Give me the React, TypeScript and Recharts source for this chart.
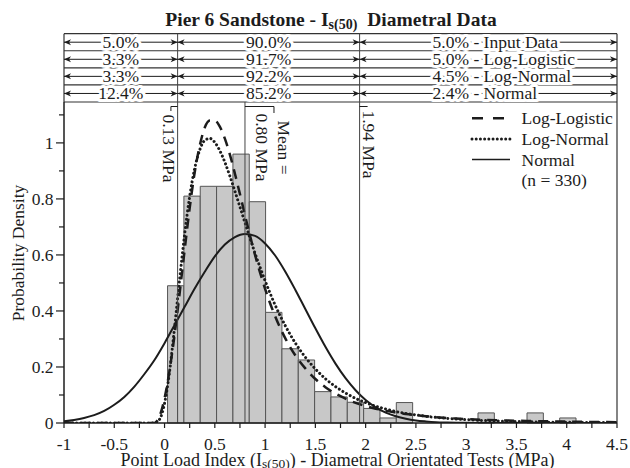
import React from 'react';
import { ComposedChart, Line, XAxis, YAxis, ReferenceArea, ReferenceLine } from 'recharts';

const SERIF = '"Liberation Serif", "Times New Roman", Times, serif';
const INK = '#1c1c1c';

// ---- histogram (density per bin) ----
const binEdges = [0.03, 0.1925, 0.355, 0.5175, 0.68, 0.8425, 1.005, 1.1675, 1.33, 1.4925, 1.655, 1.8175, 1.98, 2.1425, 2.305, 2.4675, 2.63, 2.7925, 2.955, 3.1175, 3.28, 3.4425, 3.605, 3.7675, 3.93, 4.0925];
const binDensity = [0.49, 0.81, 0.845, 0.845, 0.96, 0.79, 0.395, 0.265, 0.225, 0.112, 0.093, 0.074, 0.052, 0.018, 0.073, 0, 0, 0, 0, 0.036, 0, 0, 0.036, 0, 0.018];

// ---- fitted curves ----
const curveX = [-1, -0.9, -0.8, -0.7, -0.6, -0.5, -0.4, -0.3, -0.2, -0.15, -0.1, -0.05,
  0, 0.05, 0.1, 0.15, 0.2, 0.25, 0.3, 0.35, 0.4, 0.45, 0.5, 0.55, 0.6, 0.65, 0.7, 0.75, 0.8, 0.85, 0.9, 0.95, 1.0,
  1.1, 1.2, 1.3, 1.4, 1.5, 1.6, 1.7, 1.8, 1.9, 2.0, 2.1, 2.2, 2.3, 2.4, 2.5, 2.6, 2.7, 2.8, 2.9, 3.0,
  3.2, 3.4, 3.6, 3.8, 4.0, 4.2, 4.5];
const logLogisticY = [0, 0, 0, 0, 0, 0, 0, 0, 0, 0, 0, 0.024,
  0.088, 0.188, 0.316, 0.463, 0.618, 0.767, 0.895, 0.99, 1.055, 1.08, 1.08, 1.058, 1.015, 0.958, 0.89, 0.817, 0.742, 0.669, 0.6, 0.537, 0.479,
  0.381, 0.303, 0.242, 0.195, 0.157, 0.128, 0.105, 0.087, 0.072, 0.061, 0.051, 0.044, 0.037, 0.032, 0.028, 0.024, 0.021, 0.018, 0.016, 0.014,
  0.011, 0.0089, 0.0072, 0.0059, 0.0049, 0.004, 0.0031];
const logNormalY = [0, 0, 0, 0, 0, 0, 0, 0, 0, 0, 0.0005, 0.013,
  0.07, 0.184, 0.342, 0.513, 0.674, 0.809, 0.909, 0.975, 1.009, 1.016, 1.002, 0.972, 0.931, 0.881, 0.827, 0.771, 0.715, 0.66, 0.606, 0.556, 0.508,
  0.421, 0.348, 0.286, 0.235, 0.193, 0.158, 0.13, 0.107, 0.088, 0.073, 0.06, 0.05, 0.041, 0.034, 0.029, 0.024, 0.02, 0.017, 0.014, 0.012,
  0.0085, 0.0061, 0.0044, 0.0032, 0.0024, 0.0018, 0.0011];
const normalY = [0.006, 0.011, 0.018, 0.028, 0.043, 0.065, 0.093, 0.13, 0.175, null, 0.225, null,
  0.285, null, 0.35, null, 0.415, null, 0.48, null, 0.54, null, 0.595, null, 0.637, null, 0.664, null, 0.675, null, 0.668, null, 0.641,
  0.598, 0.541, 0.476, 0.407, 0.338, 0.272, 0.212, 0.16, 0.117, 0.082, 0.056, 0.037, 0.024, 0.015, 0.009, 0.0055, 0.003, 0.0017, 0.0009, 0.0005,
  0.0001, 0, 0, 0, 0, 0, 0];

const xTicks = [-1, -0.75, -0.5, -0.25, 0, 0.25, 0.5, 0.75, 1, 1.25, 1.5, 1.75, 2, 2.25, 2.5, 2.75, 3, 3.25, 3.5, 3.75, 4, 4.25, 4.5];
const yTicks = [0, 0.1, 0.2, 0.3, 0.4, 0.5, 0.6, 0.7, 0.8, 0.9, 1, 1.1];
const xMin = -1;
const xMax = 4.5;
const yMax = 1.146;

// ---- annotations ----
const lowerCut = 0.13;
const upperCut = 1.94;
const meanValue = 0.8;
const lowerLabel = '0.13 MPa';
const upperLabel = '1.94 MPa';
const meanLabel = ['Mean =', '0.80 MPa'];

const tableBounds = [1.39, 1.329, 1.268, 1.207, 1.146];
const tableLeft = ['5.0%', '3.3%', '3.3%', '12.4%'];
const tableMid = ['90.0%', '91.7%', '92.2%', '85.2%'];
const tableRight = ['5.0% - Input Data', '5.0% - Log-Logistic', '4.5% - Log-Normal', '2.4% - Normal'];

const legendNames = ['Log-Logistic', 'Log-Normal', 'Normal', '(n = 330)'];

const chartData = curveX.map((x, i) => ({ x, ll: logLogisticY[i], ln: logNormalY[i], nm: normalY[i] }));

const XTick = (props: any) => {
  const { x, y, payload } = props;
  const v = payload.value;
  const major = Math.abs(v * 2 - Math.round(v * 2)) < 1e-6;
  return (
    <g>
      <line x1={x} y1={y} x2={x} y2={y + 5} stroke={INK} strokeWidth={1.2} />
      {major && (
        <text x={x} y={y + 26.5} textAnchor="middle" fontFamily={SERIF} fontSize={17.5} fill={INK}>
          {String(v)}
        </text>
      )}
    </g>
  );
};

const YTick = (props: any) => {
  const { x, y, payload } = props;
  const v = payload.value;
  const major = Math.abs(v * 5 - Math.round(v * 5)) < 1e-6 && v <= 1.0001;
  return (
    <g>
      <line x1={x - (major ? 8 : 5)} y1={y} x2={x} y2={y} stroke={INK} strokeWidth={1.2} />
      {major && (
        <text x={x - 10.5} y={y + 6} textAnchor="end" fontFamily={SERIF} fontSize={17.5} fill={INK}>
          {String(v)}
        </text>
      )}
    </g>
  );
};

const makeCell = (text: string, align: 'center' | 'start') => (p: any) => {
  const xa = Math.min(p.x1, p.x2);
  const xb = Math.max(p.x1, p.x2);
  const y = p.y1;
  const tx = align === 'center' ? (xa + xb) / 2 : xa + 73;
  const ah = (tip: number, dir: number) =>
    `M${tip},${y} L${tip - dir * 7},${y - 3} L${tip - dir * 5},${y} L${tip - dir * 7},${y + 3} Z`;
  return (
    <g>
      <line x1={xa} y1={y} x2={xb} y2={y} stroke={INK} strokeWidth={1} />
      <path d={ah(xa, -1)} fill={INK} />
      <path d={ah(xb, 1)} fill={INK} />
      <text
        x={tx}
        y={y + 6}
        textAnchor={align === 'center' ? 'middle' : 'start'}
        fontFamily={SERIF}
        fontSize={17.5}
        fill={INK}
        stroke="#fff"
        strokeWidth={6}
        strokeLinejoin="round"
        style={{ paintOrder: 'stroke' } as any}
      >
        {text}
      </text>
    </g>
  );
};

const lowerShape = (p: any) => {
  const x = p.x1;
  const top = Math.min(p.y1, p.y2);
  return (
    <g>
      <path d={`M${x},${top + 4.5} H${x - 6.7} V${top + 9}`} fill="none" stroke={INK} strokeWidth={1} />
      <text x={x - 15} y={top + 12.5} transform={`rotate(90 ${x - 15} ${top + 12.5})`} fontFamily={SERIF} fontSize={17.5} fill={INK}>
        {lowerLabel}
      </text>
    </g>
  );
};

const upperShape = (p: any) => {
  const x = p.x1;
  const top = Math.min(p.y1, p.y2);
  return (
    <g>
      <path d={`M${x},${top + 4.5} H${x + 8}`} fill="none" stroke={INK} strokeWidth={1} />
      <text x={x + 3.7} y={top + 8.5} transform={`rotate(90 ${x + 3.7} ${top + 8.5})`} fontFamily={SERIF} fontSize={17.5} fill={INK}>
        {upperLabel}
      </text>
    </g>
  );
};

const meanShape = (p: any) => {
  const x = p.x1;
  const top = Math.min(p.y1, p.y2);
  const bottom = Math.max(p.y1, p.y2);
  const cy = top + 45.5;
  return (
    <g>
      <line x1={x} y1={top} x2={x} y2={bottom} stroke="#444" strokeWidth={1} />
      <path d={`M${x},${top + 4.5} H${x + 29} V${top + 11}`} fill="none" stroke={INK} strokeWidth={1} />
      <text x={x + 33} y={cy} transform={`rotate(90 ${x + 33} ${cy})`} textAnchor="middle" fontFamily={SERIF} fontSize={17.5} fill={INK}>
        {meanLabel[0]}
      </text>
      <text x={x + 11.2} y={cy} transform={`rotate(90 ${x + 11.2} ${cy})`} textAnchor="middle" fontFamily={SERIF} fontSize={17.5} fill={INK}>
        {meanLabel[1]}
      </text>
    </g>
  );
};

export default function App() {
  const frameStroke = '#333';
  const rowCenters = tableBounds.slice(0, 4).map((b, i) => (b + tableBounds[i + 1]) / 2);
  const cellSpans = [
    [xMin, lowerCut],
    [lowerCut, upperCut],
    [upperCut, xMax],
  ];
  const legendY = [118.3, 139, 159.5, 180];
  return (
    <div style={{ position: 'absolute', left: 0, top: 0, width: 630, height: 468, background: '#fff' }}>
      <ComposedChart width={630} height={468} data={chartData} margin={{ top: 102, right: 13, bottom: 15, left: 0 }}>
        <XAxis
          dataKey="x"
          type="number"
          domain={[xMin, xMax]}
          ticks={xTicks}
          interval={0}
          allowDataOverflow
          tickLine={false}
          tickSize={0}
          tickMargin={0}
          height={30}
          axisLine={{ stroke: INK, strokeWidth: 1.5 }}
          tick={<XTick />}
        />
        <YAxis
          type="number"
          domain={[0, yMax]}
          ticks={yTicks}
          interval={0}
          allowDataOverflow
          tickLine={false}
          tickSize={0}
          tickMargin={0}
          width={64}
          axisLine={{ stroke: INK, strokeWidth: 1.5 }}
          tick={<YTick />}
        />
        {binEdges.slice(0, -1).map((e, i) =>
          binDensity[i] > 0 ? (
            <ReferenceArea
              key={`bin${i}`}
              x1={e}
              x2={binEdges[i + 1]}
              y1={0}
              y2={binDensity[i]}
              fill="#c8c8c8"
              fillOpacity={1}
              stroke="#555"
              strokeWidth={1}
              strokeOpacity={1}
              ifOverflow="visible"
            />
          ) : null
        )}
        <Line dataKey="nm" type="monotone" stroke={INK} strokeWidth={2} dot={false} activeDot={false} connectNulls isAnimationActive={false} />
        <Line dataKey="ln" type="monotone" stroke={INK} strokeWidth={3} strokeDasharray="0.01 4.2" strokeLinecap="round" dot={false} activeDot={false} isAnimationActive={false} />
        <Line dataKey="ll" type="monotone" stroke={INK} strokeWidth={2.5} strokeDasharray="10 7" dot={false} activeDot={false} isAnimationActive={false} />

        {/* table and plot frame */}
        {tableBounds.map((b, i) => (
          <ReferenceLine key={`hb${i}`} segment={[{ x: xMin, y: b }, { x: xMax, y: b }]} stroke={frameStroke} strokeWidth={1.2} ifOverflow="visible" />
        ))}
        <ReferenceLine segment={[{ x: xMin, y: tableBounds[0] }, { x: xMin, y: yMax }]} stroke={frameStroke} strokeWidth={1.2} ifOverflow="visible" />
        <ReferenceLine segment={[{ x: xMax, y: tableBounds[0] }, { x: xMax, y: 0 }]} stroke={frameStroke} strokeWidth={1.2} ifOverflow="visible" />
        <ReferenceLine segment={[{ x: lowerCut, y: tableBounds[0] }, { x: lowerCut, y: 0 }]} stroke="#444" strokeWidth={1} ifOverflow="visible" />
        <ReferenceLine segment={[{ x: upperCut, y: tableBounds[0] }, { x: upperCut, y: 0 }]} stroke="#444" strokeWidth={1} ifOverflow="visible" />
        {rowCenters.map((c, r) =>
          cellSpans.map((s, k) => {
            const text = k === 0 ? tableLeft[r] : k === 1 ? tableMid[r] : tableRight[r];
            return (
              <ReferenceLine
                key={`cell${r}-${k}`}
                segment={[{ x: s[0], y: c }, { x: s[1], y: c }]}
                ifOverflow="visible"
                shape={makeCell(text, k === 2 ? 'start' : 'center')}
              />
            );
          })
        )}
        <ReferenceLine x={lowerCut} ifOverflow="visible" shape={lowerShape} />
        <ReferenceLine x={upperCut} ifOverflow="visible" shape={upperShape} />
        <ReferenceLine x={meanValue} ifOverflow="visible" shape={meanShape} />
      </ComposedChart>

      <svg width={630} height={468} style={{ position: 'absolute', left: 0, top: 0, pointerEvents: 'none' }}>
        <text x={331} y={26} textAnchor="middle" fontFamily={SERIF} fontSize={19.5} fontWeight="bold" fill={INK}>
          Pier 6 Sandstone - I<tspan fontSize={14} dy={3}>s(50)</tspan>
          <tspan dy={-3} dx={5}> Diametral Data</tspan>
        </text>
        <text x={23.5} y={253} transform="rotate(-90 23.5 253)" textAnchor="middle" fontFamily={SERIF} fontSize={17.5} fill={INK}>
          Probability Density
        </text>
        <text x={337.5} y={465.5} textAnchor="middle" fontFamily={SERIF} fontSize={18} fill={INK}>
          Point Load Index (I<tspan fontSize={13.5} dy={2.5}>s(50)</tspan>
          <tspan dy={-2.5}>) - Diametral Orientated Tests (MPa)</tspan>
        </text>
        {/* legend */}
        <line x1={472} y1={legendY[0]} x2={510} y2={legendY[0]} stroke={INK} strokeWidth={2.5} strokeDasharray="11 10" />
        <line x1={472} y1={legendY[1]} x2={510} y2={legendY[1]} stroke={INK} strokeWidth={3} strokeDasharray="0.01 4.2" strokeLinecap="round" />
        <line x1={472} y1={legendY[2]} x2={510} y2={legendY[2]} stroke={INK} strokeWidth={1.3} />
        {legendNames.map((n, i) => (
          <text key={n} x={521.5} y={legendY[i] + 6} fontFamily={SERIF} fontSize={17.5} fill={INK}>
            {n}
          </text>
        ))}
      </svg>
    </div>
  );
}
